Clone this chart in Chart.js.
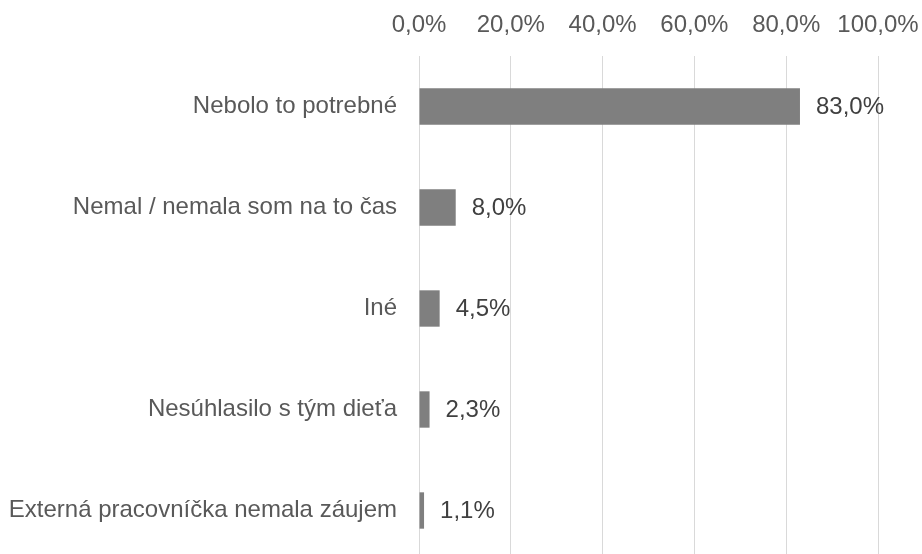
<!DOCTYPE html>
<html>
<head>
<meta charset="utf-8">
<script src="https://cdn.jsdelivr.net/npm/chart.js@4"></script>
<style>
html,body{margin:0;padding:0;background:#fff;overflow:hidden;width:922px;height:554px;}
#clip{position:relative;width:922px;height:554px;overflow:hidden;}
canvas{display:block;position:absolute;left:0;top:0;}
</style>
</head>
<body>
<div id="clip"><canvas id="c" width="922" height="561"></canvas></div>
<script>
const categories = ["Nebolo to potrebné","Nemal / nemala som na to čas","Iné","Nesúhlasilo s tým dieťa","Externá pracovníčka nemala záujem"];
const values = [83.0, 8.0, 4.5, 2.3, 1.1];
const tickValues = [0, 20, 40, 60, 80, 100];

const fmt = v => v.toFixed(1).replace('.', ',') + '%';
const FONT = '"Liberation Sans", Arial, sans-serif';

const valueLabels = {
  id: 'valueLabels',
  afterDatasetsDraw(chart) {
    const ctx = chart.ctx;
    const meta = chart.getDatasetMeta(0);
    ctx.save();
    ctx.font = '24px ' + FONT;
    ctx.fillStyle = '#404040';
    ctx.textAlign = 'left';
    ctx.textBaseline = 'middle';
    meta.data.forEach((el, i) => {
      ctx.fillText(fmt(values[i]), el.x + 16, el.y + 1);
    });
    ctx.restore();
  }
};

new Chart(document.getElementById('c'), {
  type: 'bar',
  data: {
    labels: categories,
    datasets: [{
      data: values,
      backgroundColor: '#7f7f7f',
      borderWidth: 0,
      barPercentage: 0.36,
      categoryPercentage: 1.0
    }]
  },
  options: {
    indexAxis: 'y',
    responsive: false,
    animation: false,
    layout: { padding: { left: 0, right: 44, top: 0, bottom: 0 } },
    plugins: { legend: { display: false }, tooltip: { enabled: false } },
    scales: {
      x: {
        position: 'top',
        min: 0, max: 100,
        afterBuildTicks(scale) { scale.ticks = tickValues.map(v => ({ value: v })); },
        afterFit(scale) {
          scale.height = 56;
          scale.paddingLeft = 0; scale.paddingRight = 0;
          scale.paddingTop = 0; scale.paddingBottom = 0;
        },
        ticks: {
          color: '#595959',
          font: { family: FONT, size: 24 },
          padding: 16,
          maxRotation: 0,
          autoSkip: false,
          callback: v => fmt(v)
        },
        grid: { color: '#d9d9d9', lineWidth: 1, drawTicks: false },
        border: { display: false }
      },
      y: {
        afterFit(scale) {
          scale.width = 419;
          scale.paddingLeft = 0; scale.paddingRight = 0;
          scale.paddingTop = 0; scale.paddingBottom = 0;
        },
        ticks: {
          color: '#595959',
          font: { family: FONT, size: 24 },
          padding: 22
        },
        grid: { display: false, drawTicks: false },
        border: { display: false }
      }
    }
  },
  plugins: [valueLabels]
});
</script>
</body>
</html>
